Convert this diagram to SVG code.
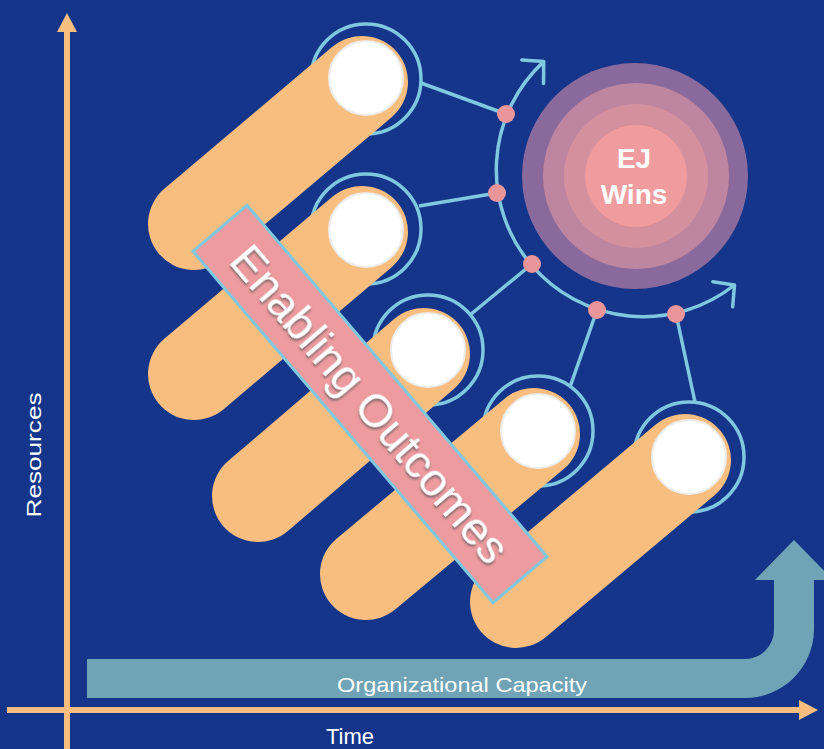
<svg xmlns="http://www.w3.org/2000/svg" width="824" height="749" viewBox="0 0 824 749">
<style>
.pill{stroke:#F7BE7F;stroke-width:92;stroke-linecap:round;fill:none}
.ring{fill:none;stroke:#7FC8DF;stroke-width:3.5}
.hole{fill:#FFFFFF;stroke:#ECECEC;stroke-width:2}
.conn{stroke:#7FC8DF;stroke-width:3.5;fill:none}
.dot{fill:#E9959A}
.axis{stroke:#F7BE7F;stroke-width:6}
.axhead{fill:#F7BE7F}
.lbl{font-family:"Liberation Sans",Arial,sans-serif;fill:#FFFFFF}
</style>
<defs>
<marker id="chev" markerUnits="userSpaceOnUse" viewBox="-20 -20 25 40" markerWidth="25" markerHeight="40" refX="0" refY="0" orient="auto-start-reverse">
<path d="M-15,-16 L0,0 L-15,16" fill="none" stroke="#7FC8DF" stroke-width="3.5" stroke-linecap="round" stroke-linejoin="round"/>
</marker>
<filter id="shadow" x="-10%" y="-30%" width="120%" height="160%">
<feDropShadow dx="1.5" dy="1.5" stdDeviation="1" flood-color="#555555" flood-opacity="0.8"/>
</filter>
</defs>
<rect width="824" height="749" fill="#14358A"/>

<g id="axes">
<line class="axis" x1="67" y1="749" x2="67" y2="30"/>
<polygon class="axhead" points="67,13 57,32 77,32"/>
<line class="axis" x1="7" y1="710" x2="802" y2="710"/>
<polygon class="axhead" points="818,710 799,700 799,720"/>
<text class="lbl" x="0" y="0" font-size="21" text-anchor="middle" textLength="125" lengthAdjust="spacingAndGlyphs" transform="translate(41,455) rotate(-90)">Resources</text>
<text class="lbl" x="350" y="744" font-size="22" text-anchor="middle">Time</text>
</g>

<g id="capacity">
<path d="M87,659 L745,659 A29,29 0 0 0 774,630 L774,580 L755,580 L794,540 L833,580 L814,580 L814,630 A69,69 0 0 1 745,698 L87,698 Z" fill="#6FA3B5"/>
<text class="lbl" x="462" y="692" font-size="21" text-anchor="middle" textLength="250" lengthAdjust="spacingAndGlyphs" fill="#F2F6F8">Organizational Capacity</text>
</g>

<g id="pill1">
<circle class="ring" cx="366" cy="79" r="55"/>
<line class="pill" x1="194" y1="224" x2="362" y2="82"/>
<circle class="hole" cx="366" cy="78" r="37"/>
</g>
<g id="pill2">
<circle class="ring" cx="366" cy="229" r="55"/>
<line class="pill" x1="194" y1="374" x2="362" y2="232"/>
<circle class="hole" cx="366" cy="230" r="37"/>
</g>
<g id="pill3">
<circle class="ring" cx="428" cy="350" r="55"/>
<line class="pill" x1="258" y1="496" x2="424" y2="354"/>
<circle class="hole" cx="428" cy="350" r="37"/>
</g>
<g id="pill4">
<circle class="ring" cx="538" cy="431" r="55"/>
<line class="pill" x1="366" y1="574" x2="534" y2="434"/>
<circle class="hole" cx="538" cy="431" r="37"/>
</g>
<g id="pill5">
<circle class="ring" cx="689" cy="457" r="55"/>
<line class="pill" x1="516" y1="602" x2="685" y2="460"/>
<circle class="hole" cx="689" cy="457" r="37"/>
</g>

<g id="ej-wins">
<circle cx="635" cy="176" r="113" fill="#8A6A9C"/>
<circle cx="636" cy="176" r="93" fill="#BD859F"/>
<circle cx="636" cy="176" r="72" fill="#D5909D"/>
<circle cx="636" cy="176" r="51" fill="#F09C9F"/>
<text class="lbl" x="634" y="168" font-size="28" font-weight="bold" text-anchor="middle">EJ</text>
<text class="lbl" x="634" y="204" font-size="28" font-weight="bold" text-anchor="middle">Wins</text>
</g>

<g id="connectors">
<path class="conn" d="M543.7,61.6 A147,147 0 0 0 734.5,285" marker-start="url(#chev)" marker-end="url(#chev)"/>
<line class="conn" x1="421" y1="83" x2="506" y2="114"/>
<line class="conn" x1="419" y1="206" x2="497" y2="193"/>
<line class="conn" x1="470" y1="315" x2="532" y2="264"/>
<line class="conn" x1="570" y1="387" x2="597" y2="310"/>
<line class="conn" x1="695" y1="402" x2="676" y2="314"/>
<circle class="dot" cx="506" cy="114" r="9"/>
<circle class="dot" cx="497" cy="193" r="9"/>
<circle class="dot" cx="532" cy="264" r="9"/>
<circle class="dot" cx="597" cy="310" r="9"/>
<circle class="dot" cx="676" cy="314" r="9"/>
</g>

<g id="enabling-outcomes" transform="translate(370,404) rotate(49.5)">
<rect x="-231" y="-35.5" width="462" height="71" fill="#EE9B9F" stroke="#7FC8DF" stroke-width="3"/>
<text class="lbl" x="0" y="16" font-size="46" text-anchor="middle" filter="url(#shadow)">Enabling Outcomes</text>
</g>
</svg>
